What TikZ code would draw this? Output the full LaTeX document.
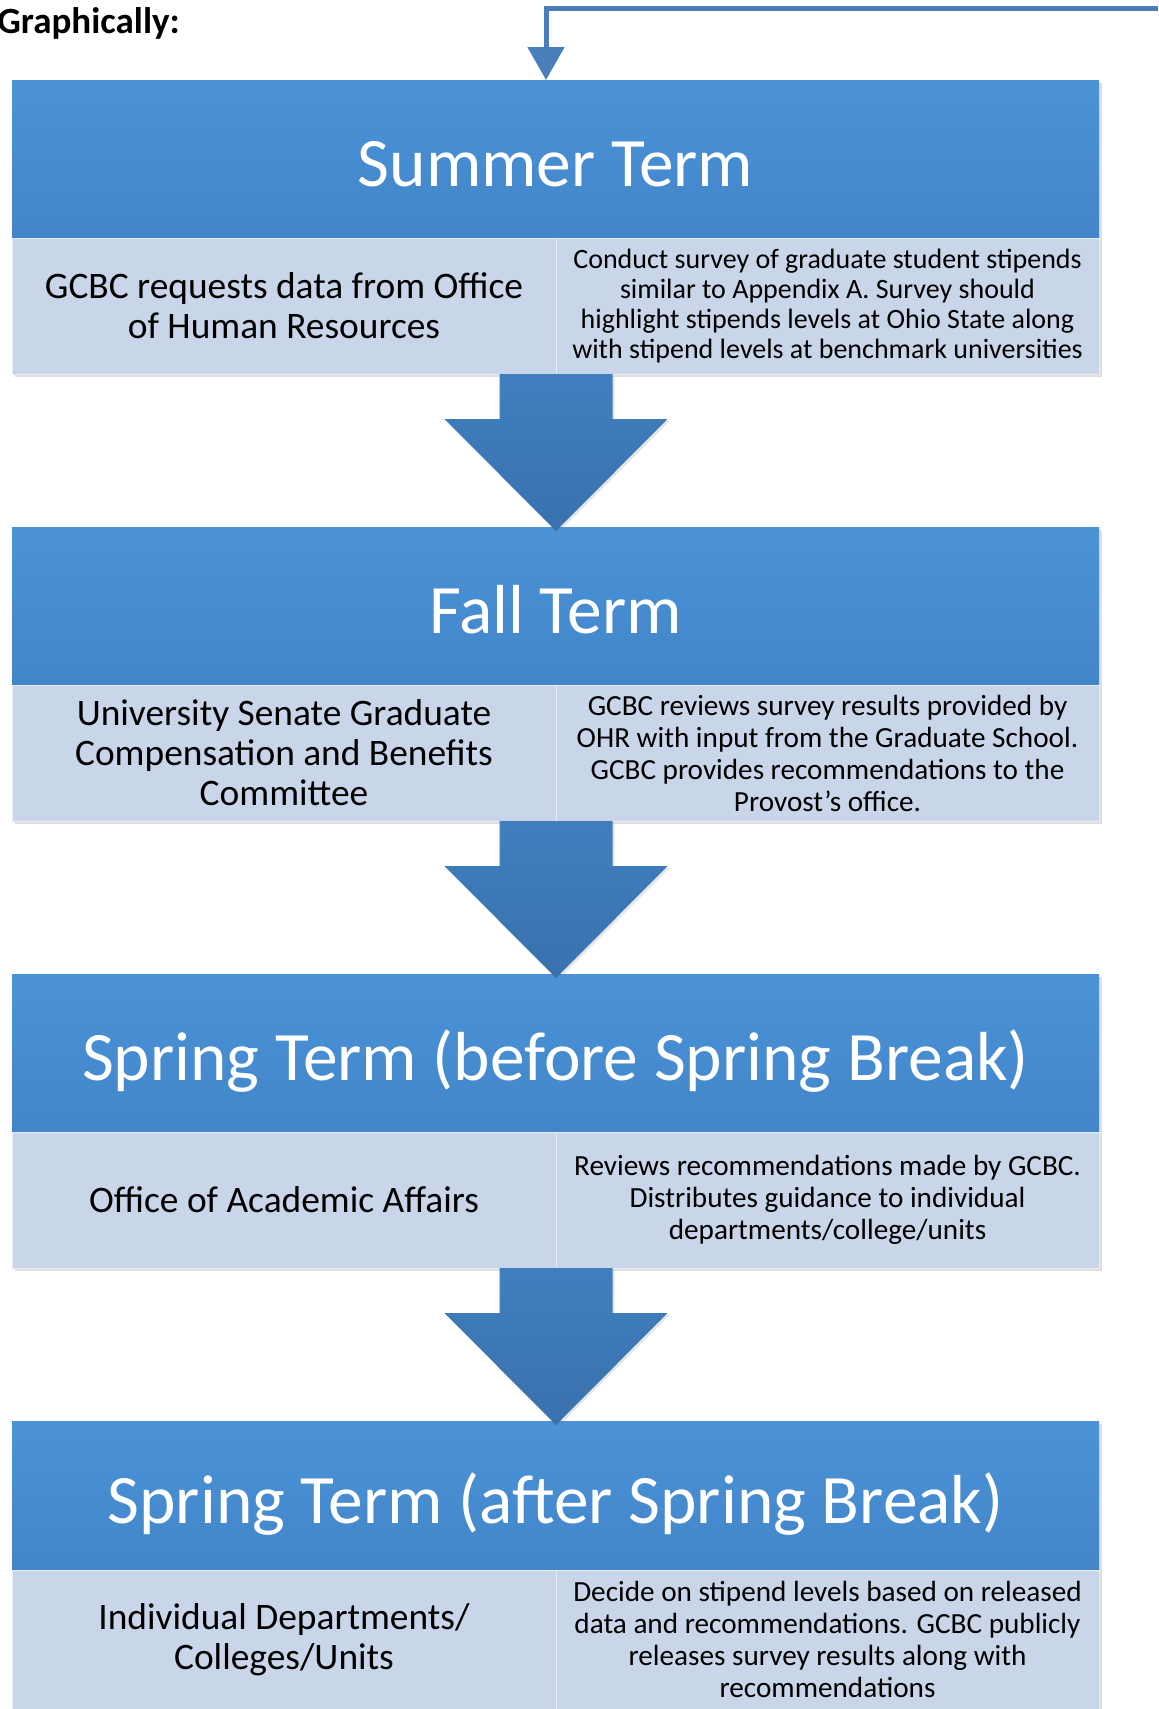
\documentclass[tikz,border=0pt]{standalone}
\usepackage{fontspec}
\setmainfont{Carlito}
\usepackage{xcolor}
\definecolor{hdrblue}  {RGB}{75,146,215}
\definecolor{hdrdark}  {RGB}{66,134,201}
\definecolor{bodyblue} {RGB}{201,213,232}
\definecolor{arrblue}  {RGB}{64,127,190}
\definecolor{arrdark}  {RGB}{57,113,173}
\definecolor{linkblue} {RGB}{74,126,187}
\usetikzlibrary{positioning,shadows,arrows.meta}
\tikzset{ % styles for the term blocks
term/.style={rectangle, top color=hdrblue, bottom color=hdrdark, text=white, inner sep=0pt, outer sep=0pt,
  minimum width=543.5pt, minimum height=79pt, font=\fontsize{34.7}{40}\selectfont,
  text height=27.8pt, text depth=0pt,
  drop shadow={opacity=0.25, shadow xshift=1.5pt, shadow yshift=-1.5pt}},
cell/.style={rectangle, fill=bodyblue, draw=white!55!bodyblue, line width=0.5pt, inner sep=0pt, outer sep=0pt,
  minimum height=68pt, align=center,
  drop shadow={opacity=0.25, shadow xshift=1.5pt, shadow yshift=-1.5pt}},
leftcell/.style={cell, minimum width=272pt, font=\fontsize{18.7}{20}\selectfont},
rightcell/.style={cell, minimum width=271.5pt, font=\fontsize{14.6}{16}\selectfont},
blockarrow/.style={top color=arrblue, bottom color=arrdark,
  drop shadow={opacity=0.2, shadow xshift=1pt, shadow yshift=-1pt}},
link/.style={draw=linkblue, line width=2.5pt, -{Triangle[width=18pt,length=16.5pt]}},
}

\begin{document}
\begin{tikzpicture}[x=0.5pt,y=-0.5pt]
\useasboundingbox[fill=white] (0,0) rectangle (1158,1709);
\node[anchor=base west, inner sep=0pt, font=\bfseries\fontsize{18.5}{20}\selectfont] (title) at (-3,33) {Graphically:};

% Summer
\node[term, anchor=north west] (h1) at (12,80) {Summer Term};
\node[leftcell, below=0pt of h1.south west, anchor=north west] (l1) {GCBC requests data from Office\\of Human Resources};
\node[rightcell, right=0pt of l1, font=\fontsize{14}{15.1}\selectfont] (r1) {Conduct survey of graduate student stipends\\similar to Appendix A. Survey should\\highlight stipends levels at Ohio State along\\with stipend levels at benchmark universities};

% Fall
\node[term, below=76.5pt of l1.south west, anchor=north west] (h2) {Fall Term};
\node[leftcell, below=0pt of h2.south west, anchor=north west] (l2) {University Senate Graduate\\Compensation and Benefits\\Committee};
\node[rightcell, right=0pt of l2] (r2) {GCBC reviews survey results provided by\\OHR with input from the Graduate School.\\GCBC provides recommendations to the\\Provost's office.};

% Spring, before break
\node[term, below=76.5pt of l2.south west, anchor=north west] (h3) {Spring Term (before Spring Break)};
\node[leftcell, below=0pt of h3.south west, anchor=north west] (l3) {Office of Academic Affairs};
\node[rightcell, right=0pt of l3] (r3) {Reviews recommendations made by GCBC.\\Distributes guidance to individual\\departments/college/units};

% Spring, after break
\node[term, below=76.5pt of l3.south west, anchor=north west, minimum height=74.5pt] (h4) {Spring Term (after Spring Break)};
\node[leftcell, below=0pt of h4.south west, anchor=north west, minimum height=69.5pt] (l4) {Individual Departments/\\Colleges/Units};
\node[rightcell, right=0pt of l4, minimum height=69.5pt] (r4) {Decide on stipend levels based on released\\data and recommendations. GCBC publicly\\releases survey results along with\\recommendations};

% big arrows between the terms
\foreach \i in {1,2,3}{
  \path[blockarrow] (r\i.south west) ++(-56.5,0) -- ++(113,0) -- ++(0,45) -- ++(55,0)
    -- ++(-111.5,112) -- ++(-111.5,-112) -- ++(55,0) -- cycle;
}

% loop back to the summer term
\coordinate (loopin) at (1158,8);
\draw[link] (loopin) -| ([xshift=-4.75pt]h1.north);
\end{tikzpicture}
\end{document}
